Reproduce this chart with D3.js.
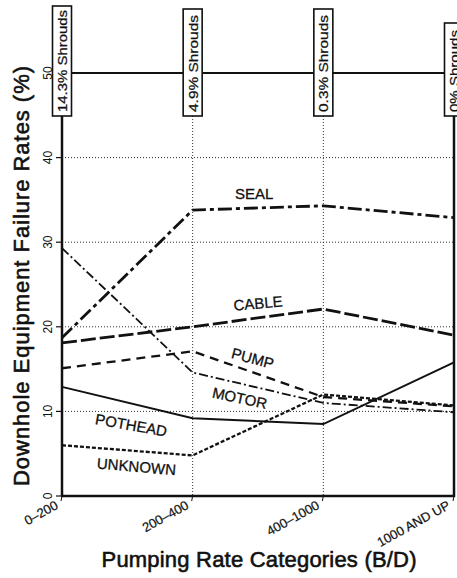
<!DOCTYPE html>
<html>
<head>
<meta charset="utf-8">
<script src="https://cdn.jsdelivr.net/npm/d3@7"></script>
<style>
  html, body { margin: 0; padding: 0; background: #fff; }
  svg { display: block; font-family: "Liberation Sans", Arial, sans-serif; }
</style>
</head>
<body>
<div id="chart"></div>
<script>
// categories and values
var categories = ["0\u2013200", "200\u2013400", "400\u20131000", "1000 AND UP"];
var shroudLabels = ["14.3% Shrouds", "4.9% Shrouds", "0.3% Shrouds", "0% Shrouds"];
var yTicks = [0, 10, 20, 30, 40, 50];

var seal    = [18.7, 33.8, 34.3, 32.9];
var cable   = [18.1, 20.0, 22.1, 19.0];
var pump    = [15.1, 17.1, 11.7, 10.6];
var motor   = [29.3, 14.6, 11.0, 9.9];
var pothead = [12.9, 9.2, 8.5, 15.8];
var unknown = [6.0, 4.8, 12.0, 10.7];

var width = 457, height = 578;
var plotLeft = 62, plotRight = 454, plotTop = 73, plotBottom = 496;
var boxBottom = 116;

var svg = d3.select("#chart").append("svg")
    .attr("width", width)
    .attr("height", height);

var x = d3.scalePoint().domain(categories).range([plotLeft, plotRight]);
var xi = d3.scaleLinear().domain([0, categories.length - 1]).range([plotLeft, plotRight]);
var y = d3.scaleLinear().domain([0, 50]).range([plotBottom, plotTop]);

// dotted grid
svg.append("g")
  .selectAll("line")
  .data(yTicks.filter(function(d) { return d > 0 && d < 50; }))
  .enter().append("line")
    .attr("x1", plotLeft).attr("x2", plotRight)
    .attr("y1", function(d) { return y(d); })
    .attr("y2", function(d) { return y(d); })
    .attr("stroke", "#333")
    .attr("stroke-width", 1)
    .attr("stroke-dasharray", "1,2");

svg.append("g")
  .selectAll("line")
  .data(categories.slice(1, 3))
  .enter().append("line")
    .attr("x1", function(d) { return x(d); })
    .attr("x2", function(d) { return x(d); })
    .attr("y1", boxBottom).attr("y2", plotBottom)
    .attr("stroke", "#333")
    .attr("stroke-width", 1)
    .attr("stroke-dasharray", "1,2");

// frame
svg.append("line")
    .attr("x1", plotLeft).attr("x2", plotRight)
    .attr("y1", y(50)).attr("y2", y(50))
    .attr("stroke", "#111").attr("stroke-width", 2.2);
svg.append("line")
    .attr("x1", plotLeft).attr("x2", plotLeft)
    .attr("y1", boxBottom).attr("y2", plotBottom)
    .attr("stroke", "#111").attr("stroke-width", 2.5);
svg.append("line")
    .attr("x1", plotRight).attr("x2", plotRight)
    .attr("y1", boxBottom).attr("y2", plotBottom + 1)
    .attr("stroke", "#111").attr("stroke-width", 2.5);
svg.append("line")
    .attr("x1", plotLeft - 1).attr("x2", plotRight + 1)
    .attr("y1", plotBottom).attr("y2", plotBottom)
    .attr("stroke", "#111").attr("stroke-width", 2.5);

// y ticks
var yAxis = svg.append("g");
yAxis.selectAll("line")
  .data(yTicks)
  .enter().append("line")
    .attr("x1", plotLeft - 6).attr("x2", plotLeft)
    .attr("y1", function(d) { return y(d); })
    .attr("y2", function(d) { return y(d); })
    .attr("stroke", "#111").attr("stroke-width", 1.2);
yAxis.selectAll("text")
  .data(yTicks)
  .enter().append("text")
    .attr("transform", function(d) { return "translate(" + (plotLeft - 10) + "," + y(d) + ") rotate(-90)"; })
    .attr("text-anchor", "middle")
    .attr("font-size", 12)
    .attr("fill", "#111")
    .text(function(d) { return d; });

// x ticks and labels
var xAxis = svg.append("g");
xAxis.selectAll("line")
  .data(categories)
  .enter().append("line")
    .attr("x1", function(d) { return x(d); })
    .attr("x2", function(d) { return x(d) - 1; })
    .attr("y1", plotBottom).attr("y2", plotBottom + 5)
    .attr("stroke", "#111").attr("stroke-width", 1);
xAxis.selectAll("text")
  .data(categories)
  .enter().append("text")
    .attr("transform", function(d) { return "translate(" + (x(d) - 3) + "," + (plotBottom + 12) + ") rotate(-29)"; })
    .attr("text-anchor", "end")
    .attr("font-size", 13)
    .attr("fill", "#111")
    .attr("stroke", "#111")
    .attr("stroke-width", 0.2)
    .text(function(d) { return d; });

// series
var series = [
  { name: "SEAL", values: seal, width: 2.8, dash: "14,4,4,4" },
  { name: "CABLE", values: cable, width: 2.8, dash: "15,4" },
  { name: "PUMP", values: pump, width: 2.3, dash: "9,6" },
  { name: "MOTOR", values: motor, width: 1.8, dash: "9,3,2,3" },
  { name: "POTHEAD", values: pothead, width: 2, dash: null },
  { name: "UNKNOWN", values: unknown, width: 2.3, dash: "4,2" }
];

var line = d3.line()
    .x(function(d, i) { return x(categories[i]); })
    .y(function(d) { return y(d); });

svg.append("g")
  .selectAll("path")
  .data(series)
  .enter().append("path")
    .attr("d", function(d) { return line(d.values); })
    .attr("fill", "none")
    .attr("stroke", "#111")
    .attr("stroke-width", function(d) { return d.width; })
    .attr("stroke-dasharray", function(d) { return d.dash; });

// line labels: position in category index / value units
var lineLabels = [
  { text: "SEAL", at: 1.47, v: 35.7, rot: 0 },
  { text: "CABLE", at: 1.50, v: 22.8, rot: -5 },
  { text: "PUMP", at: 1.46, v: 16.3, rot: 15 },
  { text: "MOTOR", at: 1.36, v: 11.6, rot: 12 },
  { text: "POTHEAD", at: 0.53, v: 8.4, rot: 10 },
  { text: "UNKNOWN", at: 0.57, v: 3.5, rot: 5 }
];

svg.append("g")
  .selectAll("text")
  .data(lineLabels)
  .enter().append("text")
    .attr("transform", function(d) { return "translate(" + xi(d.at) + "," + y(d.v) + ") rotate(" + d.rot + ")"; })
    .attr("text-anchor", "middle")
    .attr("dominant-baseline", "central")
    .attr("font-size", 15)
    .attr("fill", "#111")
    .attr("stroke", "#111")
    .attr("stroke-width", 0.3)
    .text(function(d) { return d.text; });

// shroud boxes
var boxLen = [110, 107, 107, 93];
var textLen = [102, 97, 97, 82];
var shrouds = svg.append("g")
  .selectAll("g")
  .data(shroudLabels)
  .enter().append("g")
    .attr("transform", function(d, i) { return "translate(" + x(categories[i]) + "," + boxBottom + ")"; });

shrouds.append("rect")
    .attr("x", -9.5)
    .attr("y", function(d, i) { return -boxLen[i]; })
    .attr("width", 19)
    .attr("height", function(d, i) { return boxLen[i]; })
    .attr("fill", "#fff")
    .attr("stroke", "#111")
    .attr("stroke-width", 1.6);

shrouds.append("text")
    .attr("transform", "translate(5,-4) rotate(-90)")
    .attr("text-anchor", "start")
    .attr("font-size", 13)
    .attr("textLength", function(d, i) { return textLen[i]; })
    .attr("lengthAdjust", "spacingAndGlyphs")
    .attr("fill", "#111")
    .attr("stroke", "#111")
    .attr("stroke-width", 0.25)
    .text(function(d) { return d; });

// axis titles
svg.append("text")
    .attr("x", 259).attr("y", 567)
    .attr("text-anchor", "middle")
    .attr("font-size", 22)
    .attr("textLength", 315)
    .attr("fill", "#111")
    .attr("stroke", "#111")
    .attr("stroke-width", 0.6)
    .text("Pumping Rate Categories (B/D)");

svg.append("text")
    .attr("transform", "translate(29,276) rotate(-90)")
    .attr("text-anchor", "middle")
    .attr("font-size", 22)
    .attr("textLength", 420)
    .attr("fill", "#111")
    .attr("stroke", "#111")
    .attr("stroke-width", 0.6)
    .text("Downhole Equipment Failure Rates (%)");
</script>
</body>
</html>
